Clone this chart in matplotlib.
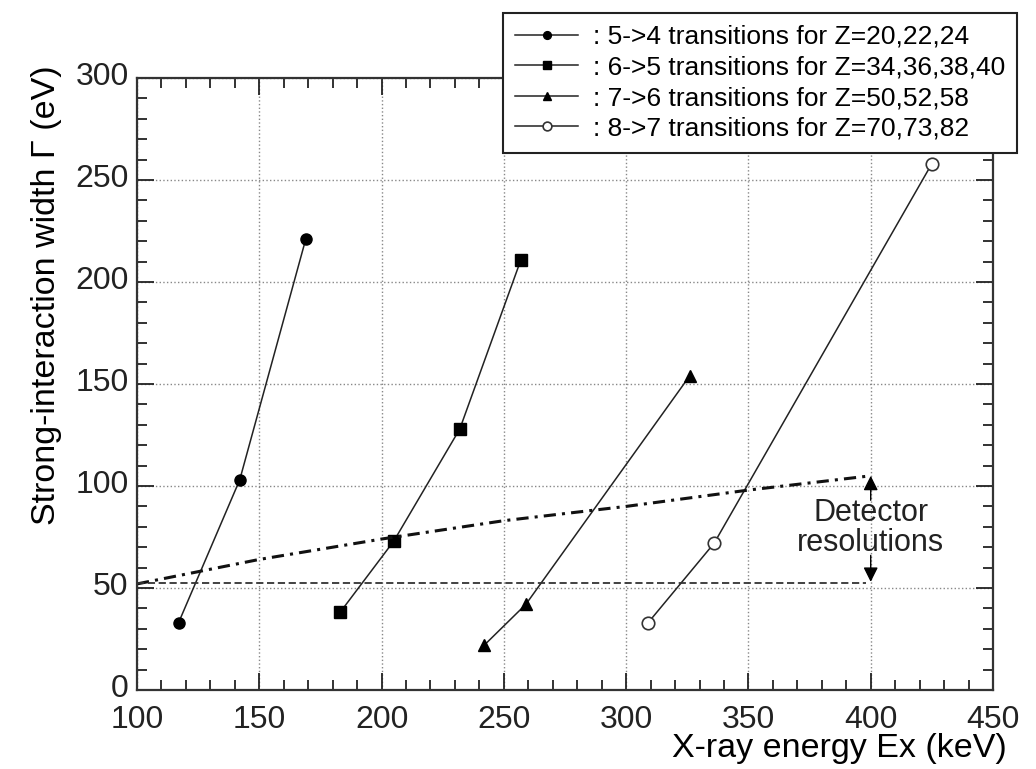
import matplotlib
matplotlib.use("Agg")
import matplotlib.pyplot as plt
import matplotlib.transforms as mtransforms
from matplotlib.ticker import MultipleLocator

plt.rcParams['font.family'] = ['Liberation Sans', 'DejaVu Sans']

# transitions: x-ray energy (keV) vs strong-interaction width (eV)
e_54 = [117, 142, 169]
g_54 = [33, 103, 221]
e_65 = [183, 205, 232, 257]
g_65 = [38, 73, 128, 211]
e_76 = [242, 259, 326]
g_76 = [22, 42, 154]
e_87 = [309, 336, 425]
g_87 = [33, 72, 258]

labels = [": 5->4 transitions for Z=20,22,24",
          ": 6->5 transitions for Z=34,36,38,40",
          ": 7->6 transitions for Z=50,52,58",
          ": 8->7 transitions for Z=70,73,82"]

# detector resolution curves
res_e = [100, 150, 200, 250, 300, 350, 400]
res_hi = [52, 64, 74, 83, 90, 98, 105]
res_lo_e = [100, 398]
res_lo = [52.5, 52.5]

fig = plt.figure(figsize=(10.36, 7.69), dpi=100)
ax = fig.add_axes([137 / 1036, 1 - 690 / 769, 856 / 1036, 612 / 769])

lc = '#222222'
h1, = ax.plot(e_54, g_54, '-', color=lc, lw=1.1, marker='o', ms=8, mfc='black', mec='black')
h2, = ax.plot(e_65, g_65, '-', color=lc, lw=1.1, marker='s', ms=8, mfc='black', mec='black')
h3, = ax.plot(e_76, g_76, '-', color=lc, lw=1.1, marker='^', ms=8, mfc='black', mec='black')
h4, = ax.plot(e_87, g_87, '-', color=lc, lw=1.1, marker='o', ms=9, mfc='white', mec='#333333', mew=1.2)

ax.plot(res_e, res_hi, color='#111111', lw=2.2, ls=(0, (4, 2, 1, 2)))
ax.plot(res_lo_e, res_lo, color='#333333', lw=1.3, ls=(0, (4, 2)))

# arrows + annotation
arrow = dict(arrowstyle='-|>', color='black', lw=1.0, mutation_scale=22, shrinkA=0, shrinkB=0)
ax.annotate('', xy=(400, 105), xytext=(400, 93), arrowprops=arrow)
ax.annotate('', xy=(400, 53), xytext=(400, 66), arrowprops=arrow)
ax.text(400, 79.5, "Detector\nresolutions", ha='center', va='center', fontsize=22,
        linespacing=1.0, color='#222222')

ax.set_xlim(100, 450)
ax.set_ylim(0, 300)
ax.xaxis.set_major_locator(MultipleLocator(50))
ax.xaxis.set_minor_locator(MultipleLocator(10))
ax.yaxis.set_major_locator(MultipleLocator(50))
ax.yaxis.set_minor_locator(MultipleLocator(10))
ax.tick_params(which='both', direction='in', top=True, right=True, width=1.3, colors='#222222')
ax.tick_params(which='major', length=12, labelsize=23)
ax.tick_params(which='minor', length=7)
ax.tick_params(axis='x', which='major', pad=11)
ax.tick_params(axis='y', which='major', pad=6)
ax.grid(True, which='major', ls=':', color='#888888', lw=1.0)
for s in ax.spines.values():
    s.set_linewidth(1.6)
    s.set_color('#333333')

# y tick labels sit a little above their ticks in the original
shift = mtransforms.ScaledTranslation(0, 3 / 72, fig.dpi_scale_trans)
for lab in ax.get_yticklabels():
    lab.set_transform(lab.get_transform() + shift)

ax.set_xlabel("X-ray energy Ex (keV)", fontsize=24.5, loc='right')
ax.xaxis.set_label_coords(1.016, -0.07)
ax.set_ylabel("Strong-interaction width \u0393 (eV)", fontsize=24.5, loc='top')
ax.yaxis.set_label_coords(-0.088, 1.02)

leg = fig.legend([h1, h2, h3, h4], labels, loc='upper right',
                 bbox_to_anchor=(1017 / 1036, 1 - 13 / 769), borderaxespad=0,
                 fontsize=19, handlelength=2.4, handletextpad=0.55, labelspacing=0.25,
                 borderpad=0.45, markerscale=0.7, fancybox=False, framealpha=1)
leg.get_frame().set_edgecolor('#222222')
leg.get_frame().set_linewidth(1.5)

fig.savefig("out.png", dpi=100)
